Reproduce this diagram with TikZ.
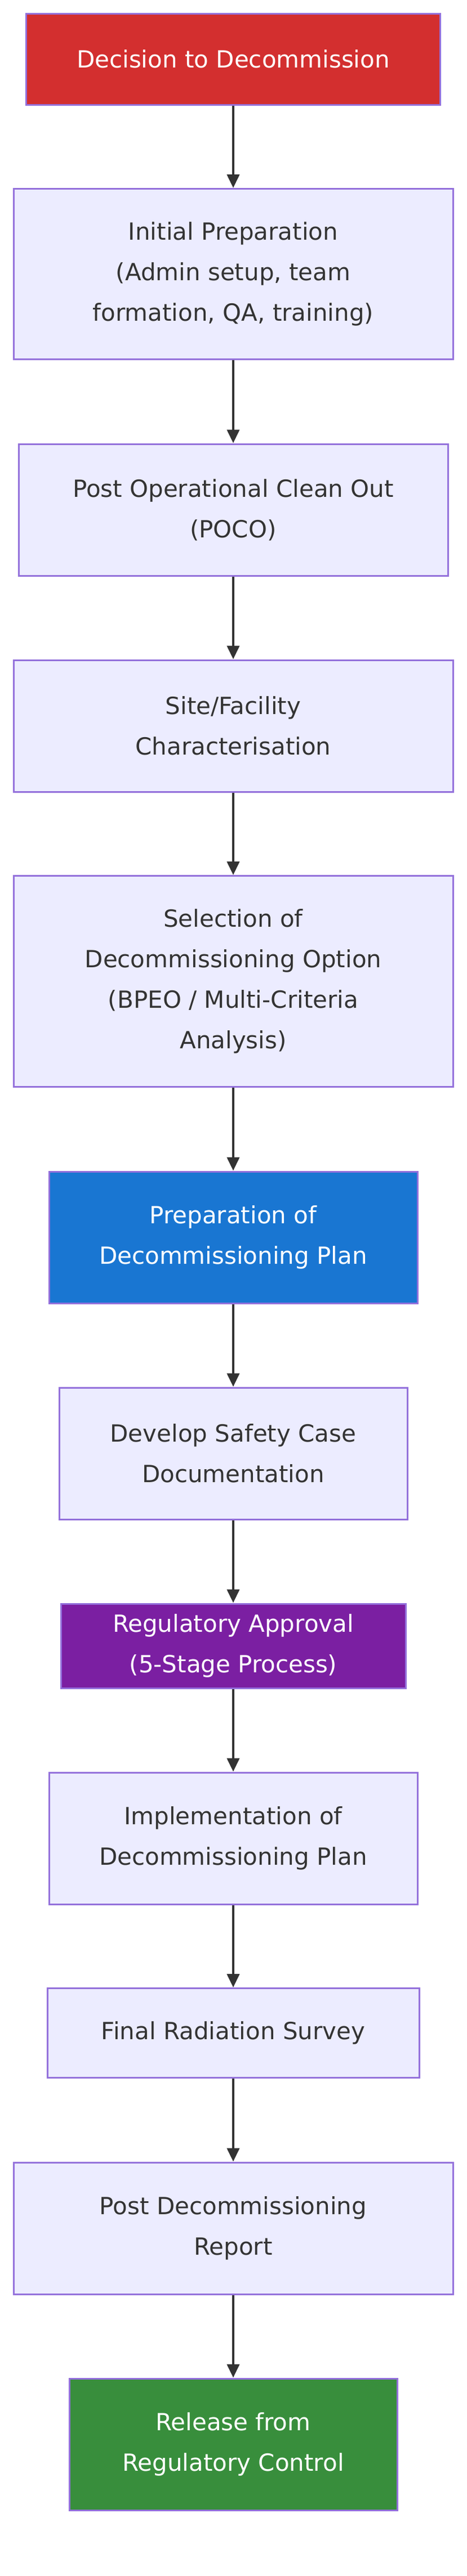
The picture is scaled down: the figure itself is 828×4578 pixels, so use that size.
\documentclass[tikz,border=0pt]{standalone}
\usepackage{fontspec}
\setmainfont{DejaVu Sans}
\usetikzlibrary{arrows.meta}
\definecolor{boxfill}{HTML}{ECECFF}
\definecolor{boxline}{HTML}{9370DB}
\definecolor{decred}{HTML}{D32F2F}
\definecolor{planblue}{HTML}{1976D2}
\definecolor{regpurple}{HTML}{7B1FA2}
\definecolor{relgreen}{HTML}{388E3C}
\definecolor{edgegray}{HTML}{333333}

\tikzset{
  stage/.style={draw=boxline,fill=boxfill,line width=3pt,align=center,
    text=edgegray,inner sep=0pt,font=\fontsize{42}{72}\selectfont},
  keystage/.style={stage,text=white},
  flow/.style={draw=edgegray,line width=4pt,-{Triangle[length=24pt,width=22pt]}}
}

\begin{document}
\begin{tikzpicture}[x=1pt,y=-1pt]
        \useasboundingbox (0,0) rectangle (828,4578);

        % Steps
        \node[keystage,fill=decred,minimum width=735pt,minimum height=162pt] (decide) at (414,105) {Decision to Decommission};
        \node[stage,minimum width=780pt,minimum height=303pt] (prep) at (414,487) {Initial Preparation\\(Admin setup, team\\formation, QA, training)};
        \node[stage,minimum width=762pt,minimum height=234pt] (poco) at (414,906) {Post Operational Clean Out\\(POCO)};
        \node[stage,minimum width=780pt,minimum height=234pt] (site) at (414,1290) {Site/Facility\\Characterisation};
        \node[stage,minimum width=780pt,minimum height=375pt] (option) at (414,1744) {Selection of\\Decommissioning Option\\(BPEO / Multi-Criteria\\Analysis)};
        \node[keystage,fill=planblue,minimum width=654pt,minimum height=234pt] (plan) at (414,2199) {Preparation of\\Decommissioning Plan};
        \node[stage,minimum width=618pt,minimum height=234pt] (safety) at (414,2583) {Develop Safety Case\\Documentation};
        \node[keystage,fill=regpurple,minimum width=612pt,minimum height=150pt] (approval) at (414,2925) {Regulatory Approval\\(5-Stage Process)};
        \node[stage,minimum width=654pt,minimum height=234pt] (implement) at (414,3267) {Implementation of\\Decommissioning Plan};
        \node[stage,minimum width=660pt,minimum height=159pt] (survey) at (414,3613) {Final Radiation Survey};
        \node[stage,minimum width=780pt,minimum height=234pt] (report) at (414,3960) {Post Decommissioning\\Report};
        \node[keystage,fill=relgreen,minimum width=582pt,minimum height=234pt] (release) at (414,4344) {Release from\\Regulatory Control};

        % Connectors
        \foreach \a/\b in {decide/prep,prep/poco,poco/site,site/option,option/plan,plan/safety,
            safety/approval,approval/implement,implement/survey,survey/report,report/release}
            \draw[flow] (\a.south) -- (\b.north);

    \end{tikzpicture}
\end{document}
